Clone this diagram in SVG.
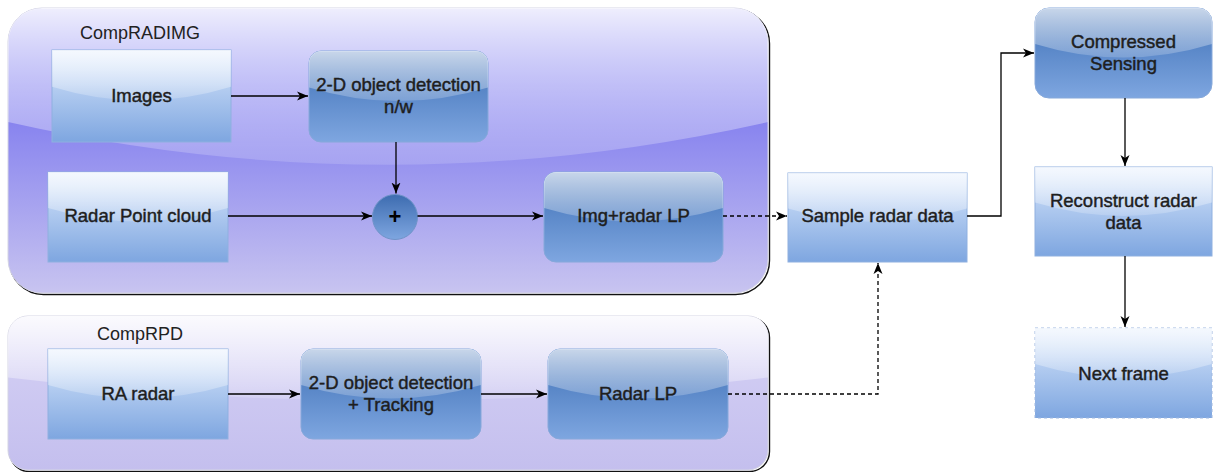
<svg xmlns="http://www.w3.org/2000/svg" width="1213" height="472" viewBox="0 0 1213 472">
<defs>
<linearGradient id="gLight" x1="0" y1="0" x2="0" y2="1"><stop offset="0" stop-color="#dae8fc"/><stop offset="1" stop-color="#7ea6e0"/></linearGradient>
<linearGradient id="gDark" x1="0" y1="0" x2="0" y2="1"><stop offset="0" stop-color="#3d6fb5"/><stop offset="1" stop-color="#7ea6e0"/></linearGradient>
<linearGradient id="gCirc" x1="0" y1="0" x2="0" y2="1"><stop offset="0" stop-color="#3d6cb0"/><stop offset="1" stop-color="#7ea6e0"/></linearGradient>
<linearGradient id="gTop" x1="0" y1="0" x2="0" y2="1"><stop offset="0" stop-color="#5d59ee"/><stop offset="1" stop-color="#c8c4f0"/></linearGradient>
<linearGradient id="gBot" x1="0" y1="0" x2="0" y2="1"><stop offset="0" stop-color="#d6d2f5"/><stop offset="1" stop-color="#c4bfee"/></linearGradient>
<linearGradient id="glossBox" x1="0" y1="0" x2="0" y2="1"><stop offset="0" stop-color="#fff" stop-opacity="0.72"/><stop offset="1" stop-color="#fff" stop-opacity="0.18"/></linearGradient>
<linearGradient id="glossCont" x1="0" y1="0" x2="0" y2="1"><stop offset="0" stop-color="#fff" stop-opacity="0.9"/><stop offset="1" stop-color="#fff" stop-opacity="0.15"/></linearGradient>
<marker id="arr" markerUnits="userSpaceOnUse" markerWidth="13" markerHeight="11" refX="11" refY="5.5" orient="auto">
<path d="M0,1 L11,5.5 L0,10 L3,5.5 Z" fill="#000"/>
</marker>
<style>
.light{fill:url(#gLight);stroke:#8fb0e0;stroke-width:1}
.dark{fill:url(#gDark);stroke:#86a8da;stroke-width:1}
.gb{fill:url(#glossBox)}
.gc{fill:url(#glossCont)}
.t{font-family:"Liberation Sans",Arial,sans-serif;font-size:18.5px;font-weight:normal;fill:#1e1e1e;stroke:#1e1e1e;stroke-width:0.45px;text-anchor:middle}
.lbl{font-family:"Liberation Sans",Arial,sans-serif;font-size:18px;fill:#222;text-anchor:middle}
.c{fill:none;stroke:#000;stroke-width:1.3}
.d{stroke-dasharray:4 3}
</style>
</defs>

<g id="CompRADIMG">
<rect x="9.5" y="9.5" width="760" height="285" rx="34" fill="none" stroke="#111" stroke-width="1.4"/>
<rect x="8" y="8" width="760" height="285" rx="34" fill="url(#gTop)" stroke="#d4d4e4" stroke-width="1"/>
<path class="gc" d="M8,42 A34,34 0 0 1 42,8 H734 A34,34 0 0 1 768,42 V122 Q388,207.5 8,122 Z"/>
<text class="lbl" x="140" y="39">CompRADIMG</text>
</g>

<g id="CompRPD">
<rect x="9.5" y="317.5" width="760" height="154" rx="20" fill="none" stroke="#111" stroke-width="1.4"/>
<rect x="8" y="316" width="760" height="154" rx="20" fill="url(#gBot)" stroke="#d4d4e4" stroke-width="1"/>
<path class="gc" d="M8,336 A20,20 0 0 1 28,316 H748 A20,20 0 0 1 768,336 V377.6 Q388,423.8 8,377.6 Z"/>
<text class="lbl" x="140" y="340">CompRPD</text>
</g>

<g id="images">
<rect class="light" x="52" y="50" width="179" height="92"/>
<path class="gb" d="M52,50 H231 V86.8 Q141.5,114.4 52,86.8 Z"/>
<text class="t" x="141.5" y="102">Images</text>
</g>

<g id="detect_nw">
<rect class="dark" x="309" y="51" width="179" height="91" rx="12"/>
<path class="gb" d="M309,63 A12,12 0 0 1 321,51 H476 A12,12 0 0 1 488,63 V87.4 Q398.5,114.7 309,87.4 Z"/>
<text class="t" x="398.5" y="91">2-D object detection</text>
<text class="t" x="398.5" y="113">n/w</text>
</g>

<g id="radar_point_cloud">
<rect class="light" x="48" y="172" width="180" height="90"/>
<path class="gb" d="M48,172 H228 V208 Q138,235 48,208 Z"/>
<text class="t" x="138" y="222">Radar Point cloud</text>
</g>

<g id="plus">
<circle cx="395" cy="217" r="22.5" fill="url(#gCirc)" stroke="#6f93c8" stroke-width="1"/>
<text x="395" y="224" font-family="Liberation Sans,Arial,sans-serif" font-size="22" font-weight="bold" fill="#000" text-anchor="middle">+</text>
</g>

<g id="img_radar_lp">
<rect class="dark" x="544" y="172" width="179" height="90" rx="12"/>
<path class="gb" d="M544,184 A12,12 0 0 1 556,172 H711 A12,12 0 0 1 723,184 V208 Q633.5,235 544,208 Z"/>
<text class="t" x="633.5" y="222">Img+radar LP</text>
</g>

<g id="sample_radar_data">
<rect class="light" x="788" y="173" width="179" height="89"/>
<path class="gb" d="M788,173 H967 V208.6 Q877.5,235.3 788,208.6 Z"/>
<text class="t" x="877.5" y="222">Sample radar data</text>
</g>

<g id="compressed_sensing">
<rect class="dark" x="1035" y="8" width="177" height="90" rx="14"/>
<path class="gb" d="M1035,22 A14,14 0 0 1 1049,8 H1198 A14,14 0 0 1 1212,22 V44 Q1123.5,71 1035,44 Z"/>
<text class="t" x="1123.5" y="48">Compressed</text>
<text class="t" x="1123.5" y="70">Sensing</text>
</g>

<g id="reconstruct">
<rect class="light" x="1035" y="167" width="177" height="89"/>
<path class="gb" d="M1035,167 H1212 V202.6 Q1123.5,229.3 1035,202.6 Z"/>
<text class="t" x="1123.5" y="207">Reconstruct radar</text>
<text class="t" x="1123.5" y="229">data</text>
</g>

<g id="next_frame">
<rect x="1035" y="328" width="177" height="90" fill="url(#gLight)" stroke="#9fb8e0" stroke-width="1" stroke-dasharray="3 3"/>
<path class="gb" d="M1035,328 H1212 V364 Q1123.5,391 1035,364 Z"/>
<text class="t" x="1123.5" y="380">Next frame</text>
</g>

<g id="ra_radar">
<rect class="light" x="48" y="349" width="180" height="90"/>
<path class="gb" d="M48,349 H228 V385 Q138,412 48,385 Z"/>
<text class="t" x="138" y="400">RA radar</text>
</g>

<g id="detect_tracking">
<rect class="dark" x="301" y="349" width="180" height="90" rx="12"/>
<path class="gb" d="M301,361 A12,12 0 0 1 313,349 H469 A12,12 0 0 1 481,361 V385 Q391,412 301,385 Z"/>
<text class="t" x="391" y="389">2-D object detection</text>
<text class="t" x="391" y="411">+ Tracking</text>
</g>

<g id="radar_lp">
<rect class="dark" x="548" y="349" width="180" height="90" rx="12"/>
<path class="gb" d="M548,361 A12,12 0 0 1 560,349 H716 A12,12 0 0 1 728,361 V385 Q638,412 548,385 Z"/>
<text class="t" x="638" y="400">Radar LP</text>
</g>

<g id="connectors">
<path class="c" d="M231,96 H308" marker-end="url(#arr)"/>
<path class="c" d="M396,142 V193.5" marker-end="url(#arr)"/>
<path class="c" d="M228,216 H372" marker-end="url(#arr)"/>
<path class="c" d="M417.5,216 H543" marker-end="url(#arr)"/>
<path class="c d" d="M723,216 H787" marker-end="url(#arr)"/>
<path class="c" d="M967,216 H1001 V53 H1034" marker-end="url(#arr)"/>
<path class="c" d="M1125,98 V166" marker-end="url(#arr)"/>
<path class="c" d="M1125,256 V327" marker-end="url(#arr)"/>
<path class="c" d="M228,394 H300" marker-end="url(#arr)"/>
<path class="c" d="M481,394 H547" marker-end="url(#arr)"/>
<path class="c d" d="M728,394 H878 V263" marker-end="url(#arr)"/>
</g>
</svg>
